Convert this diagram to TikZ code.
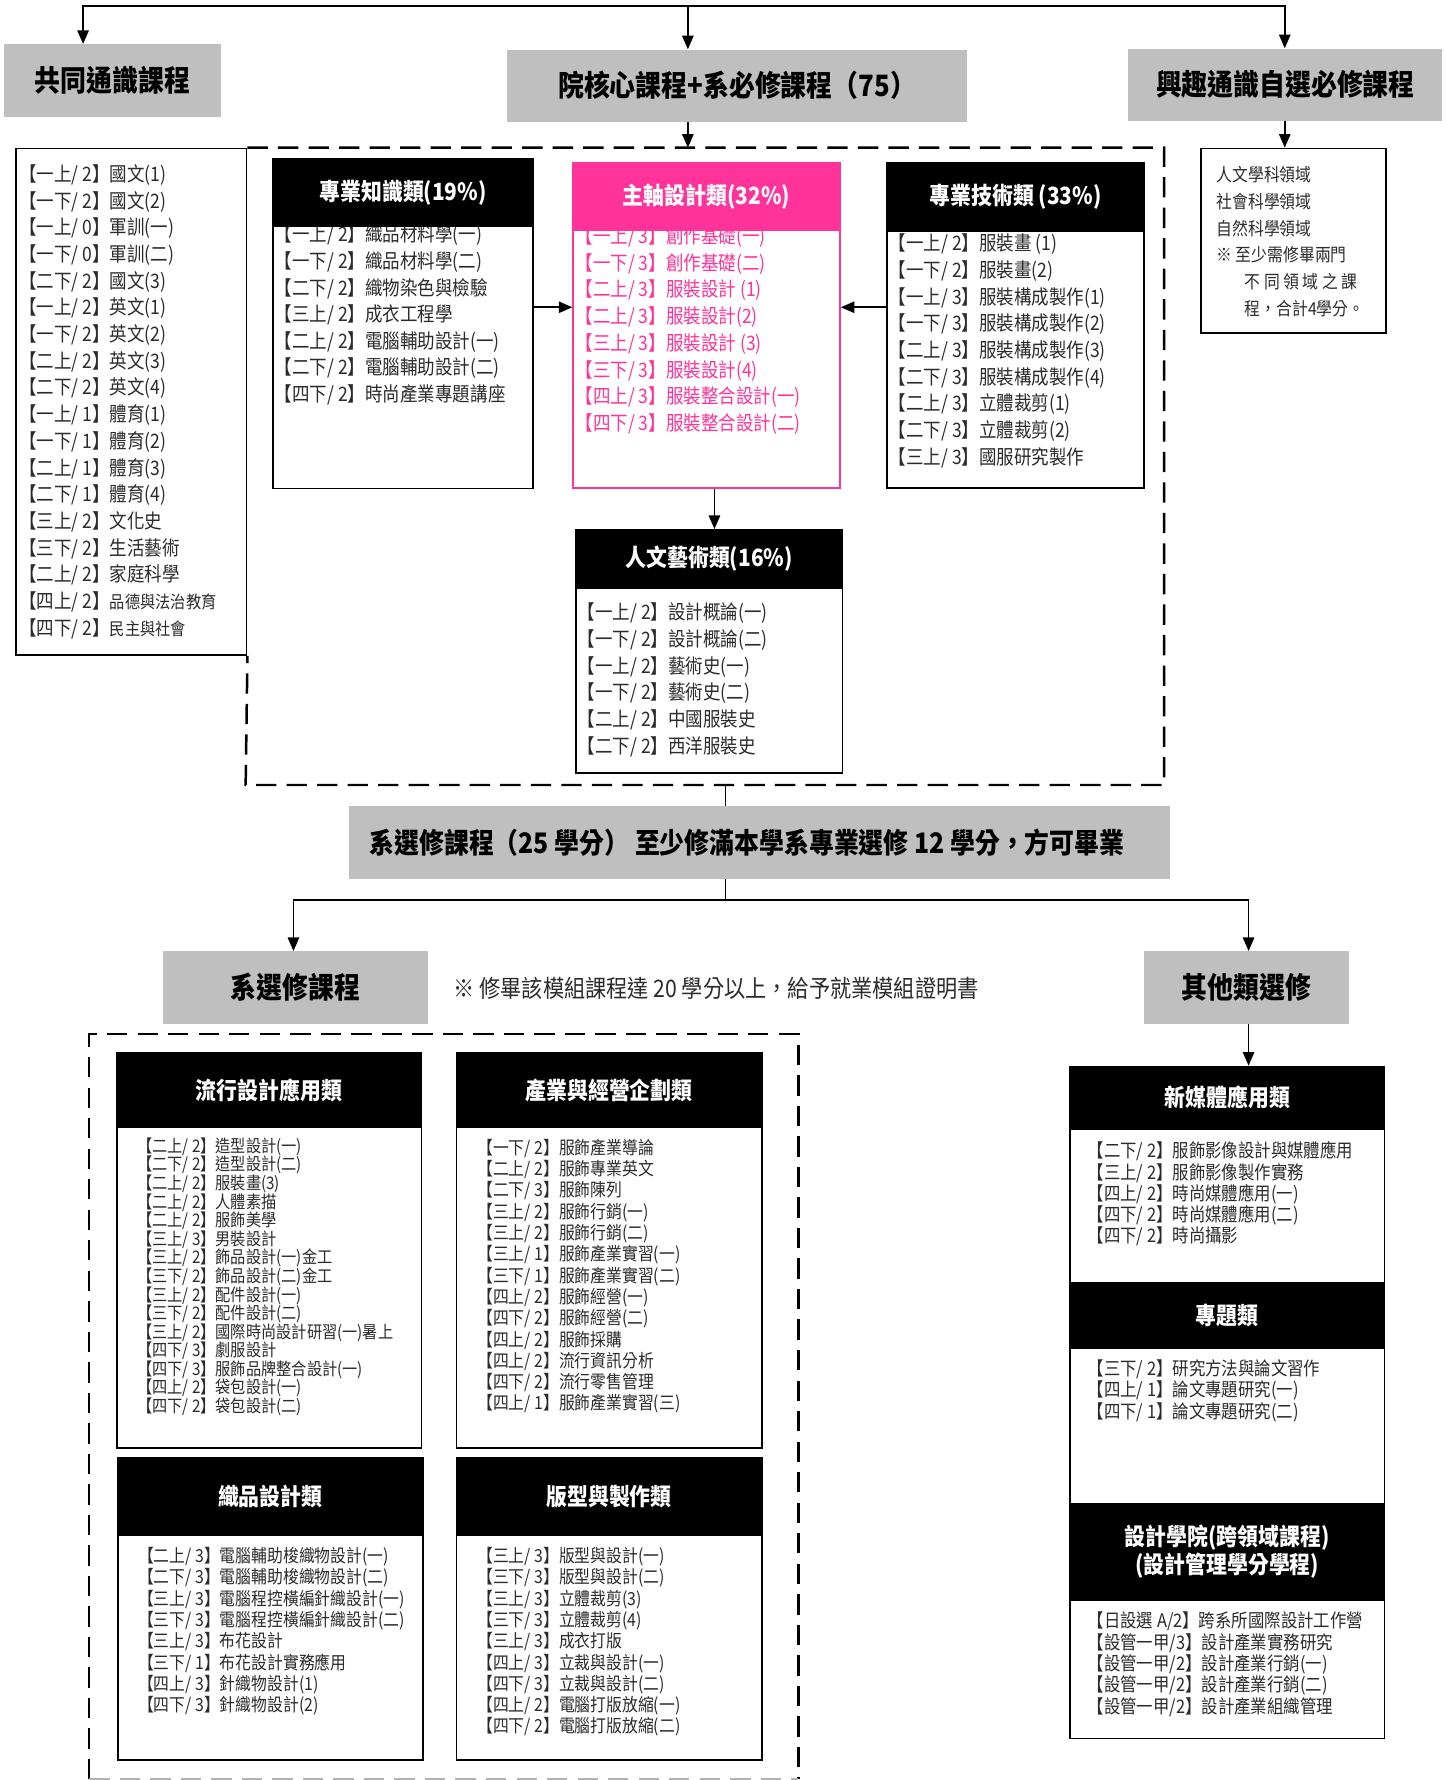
\documentclass[tikz,border=0pt]{standalone}
\usepackage{fontspec}
\setmainfont{Noto Sans CJK TC}
\newfontfamily\nar[FakeStretch=0.88]{Noto Sans CJK TC}
\usetikzlibrary{arrows.meta}
\definecolor{gbox}{HTML}{BFBFBF}
\definecolor{pk}{HTML}{FF3399}
\definecolor{txt}{HTML}{2B2B2B}
\begin{document}
\begin{tikzpicture}[x=1pt,y=-1pt,
  gbx/.style={fill=gbox,inner sep=0pt,anchor=north west,font=\nar\fontsize{26}{26}\selectfont\bfseries},
  frm/.style={draw,line width=1.6pt,fill=white,inner sep=0pt,anchor=north west},
  hdr/.style={draw,fill=black,text=white,line width=1.6pt,inner sep=0pt,anchor=north west,align=center,font=\nar\fontsize{21}{25}\selectfont\bfseries},
  itm/.style={anchor=west,inner sep=0pt,text=txt},
  fA/.style={itm,font=\nar\fontsize{17.6}{17.6}\selectfont},
  fB/.style={itm,font=\nar\fontsize{15.9}{15.9}\selectfont},
  fC/.style={itm,font=\nar\fontsize{15.3}{15.3}\selectfont},
  fD/.style={itm,font=\nar\fontsize{16.5}{16.5}\selectfont},
  conn/.style={line width=1.6pt},
  arr/.style={conn,-{Triangle[length=12pt,width=10pt]}},
  dsh/.style={line width=2.2pt,dash pattern=on 18pt off 9pt},
]
\fill[white] (0,0) rectangle (1280,1574.6);
\useasboundingbox (0,0) rectangle (1280,1574.6);

% ---------- top row ----------
\node[gbx,minimum width=191.7,minimum height=64.3] (gty) at (3.3,38.9) {共同通識課程};
\node[gbx,minimum width=407.6,minimum height=64] (core) at (448,43.6) {院核心課程+系必修課程（75）};
\node[gbx,minimum width=277.6,minimum height=64.1] (intr) at (998,42.7) {興趣通識自選必修課程};

\coordinate (tL) at (73.5,5.3);
\coordinate (tM) at (608.5,5.3);
\coordinate (tR) at (1136.5,5.3);
\draw[arr] (tM) -| (tL |- gty.north);
\draw[arr] (tM) -| (tR |- intr.north);
\draw[arr] (tM) -- (tM |- core.north);

% ---------- general list ----------
\node[frm,minimum width=203.8,minimum height=447.9] (glb) at (13.5,130.6) {};
\foreach \t [count=\i] in {【一上/ 2】國文(1),【一下/ 2】國文(2),【一上/ 0】軍訓(一),【一下/ 0】軍訓(二),【二下/ 2】國文(3),【一上/ 2】英文(1),【一下/ 2】英文(2),【二上/ 2】英文(3),【二下/ 2】英文(4),【一上/ 1】體育(1),【一下/ 1】體育(2),【二上/ 1】體育(3),【二下/ 1】體育(4),【三上/ 2】文化史,【三下/ 2】生活藝術,【二上/ 2】家庭科學}
  \node[fA] (gl\i) at (17,{154.8+23.6*(\i-1)}) {\t};
\node[fA] (gl17) at (17,{154.8+23.6*16}) {【四上/ 2】{\fontsize{15.3}{15.3}\selectfont 品德與法治教育}};
\node[fA] (gl18) at (17,{154.8+23.6*17}) {【四下/ 2】{\fontsize{15.3}{15.3}\selectfont 民主與社會}};

% ---------- dashed core box ----------
\coordinate (d1ne) at (1029.8,130.6);
\coordinate (d1se) at (1029.8,694.4);
\coordinate (d1sw) at (217.3,694.4);
\draw[dsh] (glb.north east) -- (d1ne) -- (d1se) -- (d1sw) -- (glb.south east);
\draw[arr] (tM |- core.south) -- (tM |- d1ne);

% ---------- interest box ----------
\node[frm,minimum width=163.5,minimum height=163.4] (ibx) at (1061.5,130.6) {};
\draw[arr] (tR |- intr.south) -- (tR |- ibx.north);
\foreach \t [count=\i] in {人文學科領域,社會科學領域,自然科學領域,※\ 至少需修畢兩門}
  \node[fB] (ib\i) at (1076,{154.8+23.6*(\i-1)}) {\t};
\node[fB] (ib5) at (1101,{154.8+23.6*4}) {不 同 領 域 之 課};
\node[fB] (ib6) at (1101,{154.8+23.6*5}) {程，合計4學分。};

% ---------- 專業知識類 ----------
\node[frm,minimum width=229.5,minimum height=291.4] (zsb) at (241,140) {};
\foreach \t [count=\i] in {【一上/ 2】織品材料學(一),【一下/ 2】織品材料學(二),【二下/ 2】織物染色與檢驗,【三上/ 2】成衣工程學,【二上/ 2】電腦輔助設計(一),【二下/ 2】電腦輔助設計(二),【四下/ 2】時尚產業專題講座}
  \node[fA] (zs\i) at (243,{207.9+23.6*(\i-1)}) {\t};
\node[hdr,minimum width=229.5,minimum height=59.3] (zsh) at (241,140) {專業知識類(19\%)};

% ---------- 主軸設計類 ----------
\node[frm,draw=pk,minimum width=235.9,minimum height=287.4] (pkb) at (506.3,143.6) {};
\foreach \t [count=\i] in {【一上/ 3】創作基礎(一),【一下/ 3】創作基礎(二),【二上/ 3】服裝設計 (1),【二上/ 3】服裝設計(2),【三上/ 3】服裝設計 (3),【三下/ 3】服裝設計(4),【四上/ 3】服裝整合設計(一),【四下/ 3】服裝整合設計(二)}
  \node[fA,text=pk] (pk\i) at (509,{209.8+23.6*(\i-1)}) {\t};
\node[hdr,fill=pk,draw=pk,minimum width=235.9,minimum height=59.4] (pkh) at (506.3,143.6) {主軸設計類(32\%)};

% ---------- 專業技術類 ----------
\node[frm,minimum width=227,minimum height=287.4] (jtb) at (784,143.6) {};
\foreach \t [count=\i] in {【一上/ 2】服裝畫 (1),【一下/ 2】服裝畫(2),【一上/ 3】服裝構成製作(1),【一下/ 3】服裝構成製作(2),【二上/ 3】服裝構成製作(3),【二下/ 3】服裝構成製作(4),【二上/ 3】立體裁剪(1),【二下/ 3】立體裁剪(2),【三上/ 3】國服研究製作}
  \node[fA] (jt\i) at (786,{216+23.6*(\i-1)}) {\t};
\node[hdr,minimum width=227,minimum height=59.9] (jth) at (784,143.6) {專業技術類 (33\%)};

% ---------- 人文藝術類 ----------
\node[frm,minimum width=236,minimum height=215] (rwb) at (508.5,468) {};
\foreach \t [count=\i] in {【一上/ 2】設計概論(一),【一下/ 2】設計概論(二),【一上/ 2】藝術史(一),【一下/ 2】藝術史(二),【二上/ 2】中國服裝史,【二下/ 2】西洋服裝史}
  \node[fA] (rw\i) at (511,{542.5+23.6*(\i-1)}) {\t};
\node[hdr,minimum width=236,minimum height=51] (rwh) at (508.5,468) {人文藝術類(16\%)};

\coordinate (ay) at (0,271.8);
\coordinate (ax) at (632,0);
\draw[arr] (zsb.east |- ay) -- (pkb.west |- ay);
\draw[arr] (jtb.west |- ay) -- (pkb.east |- ay);
\draw[arr] (pkb.south -| ax) -- (rwh.north -| ax);

% ---------- elective bar ----------
\coordinate (vt) at (642,694.4);
\coordinate (hM) at (642,796);
\draw[line width=1pt] (vt) -- (hM);
\node[gbx,font=\nar\fontsize{25}{25}\selectfont\bfseries,minimum width=726.7,minimum height=64] (bar) at (308.3,713) {系選修課程（25 學分） 至少修滿本學系專業選修 12 學分，方可畢業\hspace*{22pt}};

\node[gbx,minimum width=233.8,minimum height=64.2] (xs) at (144.2,841.3) {系選修課程};
\node[gbx,minimum width=181,minimum height=64.2] (qt) at (1012,841.3) {其他類選修};
\coordinate (hL) at (259.6,796);
\coordinate (hR) at (1104.5,796);
\draw[arr] (hM) -| (hL |- xs.north);
\draw[arr] (hM) -| (hR |- qt.north);
\node[itm,font=\nar\fontsize{21.3}{21.3}\selectfont] (note) at (401,874.3) {※ 修畢該模組課程達 20 學分以上，給予就業模組證明書};

% ---------- lower dashed box ----------
\coordinate (d2nw) at (78.9,914.8);
\coordinate (d2ne) at (706.3,914.8);
\coordinate (d2sw) at (78.9,1574);
\coordinate (d2se) at (706.3,1574);
\draw[dsh] (d2sw) -- (d2nw) -- (d2ne) -- (d2se);
\draw[dsh,draw=gray!60] (d2sw) -- (d2se);

% 流行設計應用類
\node[frm,minimum width=269.6,minimum height=349.8] (lxb) at (102.4,930.2) {};
\node[hdr,minimum width=269.6,minimum height=66.4] (lxh) at (102.4,930.2) {流行設計應用類};
\foreach \t [count=\i] in {【二上/ 2】造型設計(一),【二下/ 2】造型設計(二),【二上/ 2】服裝畫(3),【二上/ 2】人體素描,【二上/ 2】服飾美學,【三上/ 3】男裝設計,【三上/ 2】飾品設計(一)金工,【三下/ 2】飾品設計(二)金工,【三上/ 2】配件設計(一),【三下/ 2】配件設計(二),【三上/ 2】國際時尚設計研習(一)暑上,【四下/ 3】劇服設計,【四下/ 3】服飾品牌整合設計(一),【四上/ 2】袋包設計(一),【四下/ 2】袋包設計(二)}
  \node[fC] (lx\i) at (121,{1014.3+16.45*(\i-1)}) {\t};

% 產業與經營企劃類
\node[frm,minimum width=270,minimum height=349.8] (cyb) at (403,930.2) {};
\node[hdr,minimum width=270,minimum height=66.4] (cyh) at (403,930.2) {產業與經營企劃類};
\foreach \t [count=\i] in {【一下/ 2】服飾產業導論,【二上/ 2】服飾專業英文,【二下/ 3】服飾陳列,【三上/ 2】服飾行銷(一),【三上/ 2】服飾行銷(二),【三上/ 1】服飾產業實習(一),【三下/ 1】服飾產業實習(二),【四上/ 2】服飾經營(一),【四下/ 2】服飾經營(二),【四上/ 2】服飾採購,【四上/ 2】流行資訊分析,【四下/ 2】流行零售管理,【四上/ 1】服飾產業實習(三)}
  \node[fB] (cy\i) at (422,{1015.8+18.85*(\i-1)}) {\t};

% 織品設計類
\node[frm,minimum width=270,minimum height=267] (zpb) at (103.3,1289) {};
\node[hdr,minimum width=270,minimum height=68] (zph) at (103.3,1289) {織品設計類};
\foreach \t [count=\i] in {【二上/ 3】電腦輔助梭織物設計(一),【二下/ 3】電腦輔助梭織物設計(二),【三上/ 3】電腦程控橫編針織設計(一),【三下/ 3】電腦程控橫編針織設計(二),【三上/ 3】布花設計,【三下/ 1】布花設計實務應用,【四上/ 3】針織物設計(1),【四下/ 3】針織物設計(2)}
  \node[fB] (zp\i) at (122,{1377+18.85*(\i-1)}) {\t};

% 版型與製作類
\node[frm,minimum width=270,minimum height=267] (bxb) at (403,1289) {};
\node[hdr,minimum width=270,minimum height=68] (bxh) at (403,1289) {版型與製作類};
\foreach \t [count=\i] in {【三上/ 3】版型與設計(一),【三下/ 3】版型與設計(二),【三上/ 3】立體裁剪(3),【三下/ 3】立體裁剪(4),【三上/ 3】成衣打版,【四上/ 3】立裁與設計(一),【四下/ 3】立裁與設計(二),【四上/ 2】電腦打版放縮(一),【四下/ 2】電腦打版放縮(二)}
  \node[fB] (bx\i) at (422,{1377+18.85*(\i-1)}) {\t};

% ---------- right column ----------
\node[frm,minimum width=278.4,minimum height=594.3] (rcb) at (945.6,942.7) {};
\node[hdr,minimum width=278.4,minimum height=55.3] (nmh) at (945.6,942.7) {新媒體應用類};
\node[hdr,minimum width=278.4,minimum height=58.4] (zth) at (945.6,1133.7) {專題類};
\node[hdr,minimum width=278.4,minimum height=85.5] (sjh) at (945.6,1329.2) {設計學院(跨領域課程)\\(設計管理學分學程)};
\draw[arr] (hR |- qt.south) -- (hR |- nmh.north);
\foreach \t [count=\i] in {【二下/ 2】服飾影像設計與媒體應用,【三上/ 2】服飾影像製作實務,【四上/ 2】時尚媒體應用(一),【四下/ 2】時尚媒體應用(二),【四下/ 2】時尚攝影}
  \node[fD] (nm\i) at (962,{1018.7+18.8*(\i-1)}) {\t};
\foreach \t [count=\i] in {【三下/ 2】研究方法與論文習作,【四上/ 1】論文專題研究(一),【四下/ 1】論文專題研究(二)}
  \node[fD] (zt\i) at (962,{1211.2+19.2*(\i-1)}) {\t};
\foreach \t [count=\i] in {【日設選 A/2】跨系所國際設計工作營,【設管一甲/3】設計產業實務研究,【設管一甲/2】設計產業行銷(一),【設管一甲/2】設計產業行銷(二),【設管一甲/2】設計產業組織管理}
  \node[fD] (sj\i) at (962,{1434.5+18.9*(\i-1)}) {\t};
\end{tikzpicture}
\end{document}
